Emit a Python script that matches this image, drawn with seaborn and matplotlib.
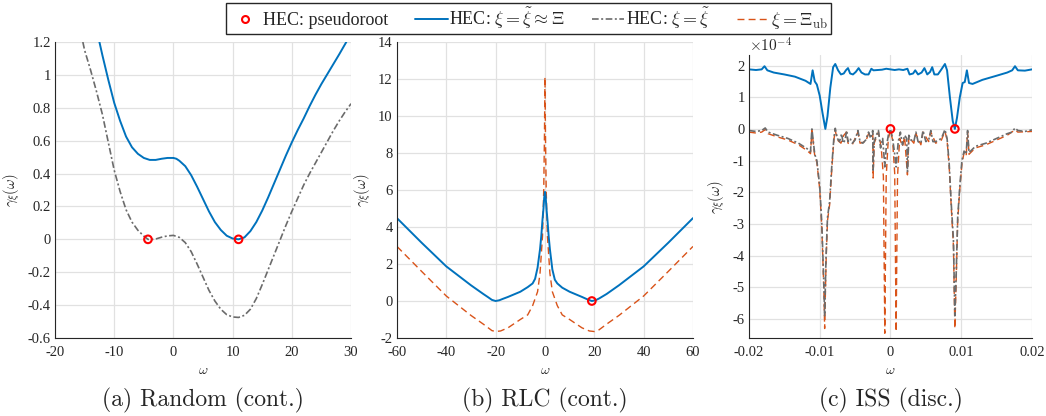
import numpy as np
import matplotlib
matplotlib.use("Agg")
import matplotlib.pyplot as plt
from matplotlib.lines import Line2D
import seaborn as sns

# colours (MATLAB defaults)
BLUE = "#0072BD"
ORANGE = "#D95319"
GRAY = "#6b6b6b"
AXC = "#262626"

# ---------------- data: (a) Random (cont.) ----------------
a_blue_x = [-12.5, -12, -11, -10, -9, -8, -7, -6, -5, -4, -3, -2, -1, 0, 0.5, 1, 2, 3, 4, 5,
            6, 7, 8, 9, 10, 11, 12, 13, 14, 15, 16, 17, 18, 19, 20, 21, 22, 23, 24, 25, 26,
            27, 28, 29.2]
a_blue_y = [1.2, 1.12, 0.97, 0.83, 0.72, 0.625, 0.56, 0.52, 0.495, 0.483, 0.483, 0.49, 0.495,
            0.495, 0.49, 0.478, 0.445, 0.39, 0.32, 0.245, 0.17, 0.105, 0.057, 0.022, 0.005,
            0.0, 0.012, 0.05, 0.105, 0.175, 0.255, 0.34, 0.425, 0.51, 0.59, 0.665, 0.735,
            0.81, 0.88, 0.945, 1.005, 1.065, 1.125, 1.2]
a_gray_x = [-15.3, -15, -14, -13, -12, -11, -10, -9, -8, -7, -6, -5, -4.3, -4, -3, -2, -1, 0,
            1, 2, 3, 4, 5, 6, 7, 8, 9, 10, 11, 12, 13, 14, 15, 16, 17, 18, 19, 20, 21, 22, 23,
            24, 25, 26, 27, 28, 29, 30]
a_gray_y = [1.2, 1.15, 1.03, 0.9, 0.76, 0.59, 0.42, 0.29, 0.18, 0.105, 0.055, 0.02, 0.0,
            -0.002, 0.002, 0.013, 0.021, 0.024, 0.012, -0.02, -0.075, -0.15, -0.23, -0.31,
            -0.375, -0.425, -0.458, -0.472, -0.475, -0.462, -0.425, -0.36, -0.275, -0.185,
            -0.095, -0.005, 0.085, 0.17, 0.25, 0.33, 0.4, 0.465, 0.53, 0.595, 0.66, 0.72,
            0.775, 0.825]
a_root_x = [-4.3, 11.0]
a_root_y = [0.0, 0.0]

# ---------------- data: (b) RLC (cont.) ----------------
b_blue_x = [-60, -50, -40, -30, -25, -23, -21.5, -20, -18.5, -17, -15, -10, -7, -5, -4, -3,
            -2, -1.5, -1, -0.6, -0.3, 0, 0.3, 0.6, 1, 1.5, 2, 3, 4, 5, 7, 10, 15, 17, 19,
            20.5, 22, 25, 30, 40, 50, 60]
b_blue_y = [4.48, 3.15, 1.87, 0.85, 0.38, 0.2, 0.06, 0.0, 0.04, 0.12, 0.22, 0.5, 0.75, 0.95,
            1.2, 1.8, 2.8, 3.5, 4.4, 5.0, 5.6, 5.9, 5.6, 5.0, 4.4, 3.5, 2.8, 1.7, 1.15, 0.95,
            0.72, 0.5, 0.22, 0.1, 0.0, 0.04, 0.14, 0.38, 0.85, 1.87, 3.15, 4.48]
b_orange_x = [-60, -50, -40, -30, -25, -23, -21.5, -20, -18, -15, -10, -7, -5, -3, -2, -1,
              -0.5, -0.2, 0, 0.2, 0.5, 1, 2, 3, 5, 7, 10, 15, 18, 20, 21.5, 23, 25, 30, 40,
              50, 60]
b_orange_y = [2.95, 1.6, 0.27, -0.78, -1.25, -1.45, -1.6, -1.65, -1.62, -1.45, -1.0, -0.75,
              -0.25, 0.5, 1.5, 3.5, 6.0, 9.0, 12.1, 9.0, 6.0, 3.5, 1.5, 0.5, -0.25, -0.75,
              -1.0, -1.45, -1.62, -1.65, -1.6, -1.45, -1.25, -0.78, 0.27, 1.6, 2.95]
b_root_x = [19.0]
b_root_y = [0.0]

# ---------------- data: (c) ISS (disc.), values in 1e-4 ----------------
c_blue_x = [-0.0200, -0.0190, -0.0182, -0.0178, -0.0174, -0.0165, -0.0150, -0.0135, -0.0120,
            -0.0113, -0.0110, -0.0107, -0.0104, -0.0100, -0.0096, -0.0092, -0.0089, -0.0085,
            -0.0081, -0.0078, -0.0074, -0.0070, -0.0066, -0.0063, -0.0060, -0.0057, -0.0053,
            -0.0049, -0.0045, -0.0041, -0.0036, -0.0031, -0.0027, -0.0024, -0.0018, -0.0012,
            -0.0006, 0.0000, 0.0006, 0.0012, 0.0018, 0.0024, 0.0027, 0.0032, 0.0035, 0.0039,
            0.0044, 0.0048, 0.0052, 0.0056, 0.0059, 0.0062, 0.0067, 0.0072, 0.0077, 0.0080,
            0.0084, 0.0088, 0.0091, 0.0094, 0.0098, 0.0102, 0.0105, 0.0108, 0.0111, 0.0116,
            0.0130, 0.0150, 0.0165, 0.0172, 0.0176, 0.0180, 0.0190, 0.0200]
c_blue_y = [1.88, 1.86, 1.88, 1.98, 1.85, 1.78, 1.72, 1.65, 1.52, 1.42, 1.85, 1.50, 1.40, 1.05,
            0.5, 0.0, 0.4, 1.3, 1.95, 2.05, 1.85, 1.72, 1.75, 1.85, 1.92, 1.75, 1.72, 1.8, 1.92,
            1.78, 1.72, 1.72, 1.9, 1.85, 1.86, 1.87, 1.9, 1.88, 1.86, 1.88, 1.86, 1.9, 1.72,
            1.75, 1.85, 1.72, 1.78, 1.92, 1.72, 1.8, 1.95, 1.72, 1.72, 1.88, 2.05, 1.85, 1.0,
            0.25, 0.0, 0.35, 1.0, 1.45, 1.48, 1.85, 1.45, 1.42, 1.55, 1.68, 1.78, 1.85, 1.98,
            1.85, 1.84, 1.88]
c_gray_x = [-0.0200, -0.0190, -0.0182, -0.0177, -0.0173, -0.0160, -0.0145, -0.0130, -0.0118,
            -0.0113, -0.0111, -0.0107, -0.0104, -0.0100, -0.0097, -0.0094, -0.0093, -0.0091,
            -0.0089, -0.0086, -0.0083, -0.0080, -0.0078, -0.0075, -0.0072, -0.0069, -0.0067,
            -0.0064, -0.0062, -0.0060, -0.0057, -0.0054, -0.0050, -0.0046, -0.0043, -0.0039,
            -0.0035, -0.0031, -0.0028, -0.0025, -0.00245, -0.0023, -0.0020, -0.0017, -0.0014,
            -0.0011, -0.0008, -0.0006, -0.0003, 0.0000, 0.0003, 0.0006, 0.0008, 0.0011, 0.0014,
            0.0017, 0.0020, 0.0023, 0.0024, 0.0026, 0.0029, 0.0033, 0.0036, 0.0039, 0.0043,
            0.0046, 0.0050, 0.0054, 0.0057, 0.0060, 0.0064, 0.0068, 0.0072, 0.0077, 0.0080,
            0.0083, 0.0086, 0.0089, 0.0091, 0.0093, 0.0095, 0.0098, 0.0101, 0.0104, 0.0107,
            0.0109, 0.0111, 0.0120, 0.0135, 0.0150, 0.0165, 0.0172, 0.0176, 0.0180, 0.0190,
            0.0200]
c_gray_y = [-0.05, -0.08, -0.05, 0.03, -0.1, -0.2, -0.3, -0.45, -0.62, -0.72, 0.0, -0.8, -1.0,
            -1.8, -3.0, -5.0, -5.9, -4.0, -2.8, -2.3, -1.2, -0.3, 0.02, -0.3, -0.4, -0.15,
            -0.45, -0.35, -0.05, -0.4, -0.3, -0.45, -0.35, -0.05, -0.4, -0.45, -0.35, -0.1,
            -0.3, -0.05, -1.3, -0.4, -0.2, -0.05, -0.6, -0.3, -1.2, -0.6, -0.2, 0.0, -0.3, -0.8,
            -1.2, -0.4, -0.1, -0.5, -0.2, -0.3, -1.35, -0.2, -0.35, -0.4, -0.1, -0.4, -0.45,
            -0.05, -0.4, -0.35, -0.05, -0.4, -0.4, -0.35, -0.3, -0.02, -0.3, -1.1, -2.4, -3.5,
            -5.9, -4.5, -2.8, -1.8, -1.0, -0.7, -0.8, -0.05, -0.75, -0.55, -0.45, -0.3, -0.15,
            -0.1, 0.03, -0.05, -0.08, -0.03]
c_orange_x = [-0.0200, -0.0190, -0.0182, -0.0177, -0.0173, -0.0160, -0.0145, -0.0130,
              -0.0118, -0.0113, -0.0111, -0.0107, -0.0104, -0.0100, -0.0097, -0.0094, -0.0093,
              -0.0091, -0.0089, -0.0086, -0.0083, -0.0080, -0.0078, -0.0075, -0.0070, -0.0066,
              -0.0062, -0.0060, -0.0054, -0.0046, -0.0043, -0.0035, -0.0031, -0.0025, -0.00245,
              -0.0023, -0.0017, -0.0013, -0.0010, -0.0008, -0.0006, -0.0003, 0.0000, 0.0003,
              0.0006, 0.0008, 0.0010, 0.0013, 0.0017, 0.0020, 0.0024, 0.0026, 0.0033, 0.0036,
              0.0043, 0.0046, 0.0054, 0.0057, 0.0064, 0.0072, 0.0077, 0.0080, 0.0083, 0.0086,
              0.0089, 0.0091, 0.0093, 0.0095, 0.0098, 0.0101, 0.0104, 0.0107, 0.0109, 0.0111,
              0.0120, 0.0135, 0.0150, 0.0165, 0.0176, 0.0180, 0.0200]
c_orange_y = [-0.1, -0.13, -0.1, -0.02, -0.15, -0.25, -0.35, -0.5, -0.68, -0.78, -0.05, -0.85,
              -1.05, -1.9, -3.1, -5.2, -6.3, -4.2, -2.9, -2.4, -1.3, -0.35, -0.05, -0.35, -0.45,
              -0.2, -0.1, -0.45, -0.5, -0.1, -0.45, -0.4, -0.15, -0.1, -1.55, -0.45, -0.1, -0.6,
              -1.5, -6.45, -1.5, -0.3, -0.05, -0.35, -1.4, -6.4, -1.5, -0.3, -0.55, -0.25, -1.45,
              -0.25, -0.45, -0.15, -0.5, -0.1, -0.4, -0.1, -0.45, -0.35, -0.07, -0.35, -1.2,
              -2.5, -3.7, -6.3, -4.7, -2.9, -1.9, -1.1, -0.75, -0.85, -0.1, -0.8, -0.6, -0.5,
              -0.35, -0.2, -0.03, -0.1, -0.08]
c_root_x = [0.0, 0.0091]
c_root_y = [0.0, 0.0]

captions = ["(a) Random (cont.)", "(b) RLC (cont.)", "(c) ISS (disc.)"]


def style_axes(ax, xlim, ylim, xticks, yticks, xlabels=None, ylabels=None):
    ax.set_xlim(*xlim)
    ax.set_ylim(*ylim)
    ax.set_xticks(xticks, labels=xlabels)
    ax.set_yticks(yticks, labels=ylabels)
    ax.grid(True, color="#e1e1e1", linewidth=0.9)
    ax.set_axisbelow(True)
    for side in ["top", "right"]:
        ax.spines[side].set_visible(False)
    for side in ["left", "bottom"]:
        ax.spines[side].set_color(AXC)
        ax.spines[side].set_linewidth(0.8)
    ax.tick_params(direction="in", length=3, width=0.8, colors=AXC, labelsize=10.5,
                   labelcolor=AXC, pad=3)
    ax.tick_params(axis="x", pad=6)
    ax.set_xlabel(r"$\omega$", fontsize=10, color=AXC, labelpad=3)
    ax.set_ylabel(r"$\gamma_\xi(\omega)$", fontsize=10.5, color=AXC, labelpad=4)


def roots(ax, x, y):
    sns.scatterplot(x=x, y=y, ax=ax, s=30, marker="o", facecolor="none",
                    edgecolor="red", linewidth=1.5, zorder=5)


sns.set_style("whitegrid")
plt.rcParams["font.family"] = ["Liberation Serif", "DejaVu Serif"]
plt.rcParams["mathtext.fontset"] = "cm"

fig = plt.figure(figsize=(10.46, 4.16), dpi=100)
ax_a = fig.add_axes([0.0526, 0.1875, 0.283, 0.7115])
ax_b = fig.add_axes([0.3795, 0.1875, 0.283, 0.7115])
ax_c = fig.add_axes([0.716, 0.1875, 0.2706, 0.680])

dash_gray = (0, (4, 1.5, 1.2, 1.5))
dash_orange = (0, (5, 3))

# (a)
sns.lineplot(x=a_gray_x, y=a_gray_y, ax=ax_a, color=GRAY, linewidth=1.2,
             linestyle=dash_gray, estimator=None)
sns.lineplot(x=a_blue_x, y=a_blue_y, ax=ax_a, color=BLUE, linewidth=1.4, estimator=None)
roots(ax_a, a_root_x, a_root_y)
style_axes(ax_a, (-20, 30), (-0.6, 1.2), [-20, -10, 0, 10, 20, 30],
           np.round(np.arange(-0.6, 1.21, 0.2), 1),
           ["-20", "-10", "0", "10", "20", "30"],
           ["-0.6", "-0.4", "-0.2", "0", "0.2", "0.4", "0.6", "0.8", "1", "1.2"])

# (b)
sns.lineplot(x=b_orange_x, y=b_orange_y, ax=ax_b, color=ORANGE, linewidth=1.0,
             linestyle=dash_orange, estimator=None)
sns.lineplot(x=b_blue_x, y=b_blue_y, ax=ax_b, color=BLUE, linewidth=1.4, estimator=None)
roots(ax_b, b_root_x, b_root_y)
style_axes(ax_b, (-60, 60), (-2, 14), list(range(-60, 61, 20)), list(range(-2, 15, 2)),
           [str(v) for v in range(-60, 61, 20)], [str(v) for v in range(-2, 15, 2)])

# (c)
sns.lineplot(x=c_orange_x, y=c_orange_y, ax=ax_c, color=ORANGE, linewidth=1.0,
             linestyle=dash_orange, estimator=None, sort=False)
sns.lineplot(x=c_gray_x, y=c_gray_y, ax=ax_c, color=GRAY, linewidth=1.2,
             linestyle=dash_gray, estimator=None, sort=False)
sns.lineplot(x=c_blue_x, y=c_blue_y, ax=ax_c, color=BLUE, linewidth=1.4, estimator=None,
             sort=False)
roots(ax_c, c_root_x, c_root_y)
style_axes(ax_c, (-0.02, 0.02), (-6.6, 2.33), [-0.02, -0.01, 0, 0.01, 0.02],
           list(range(-6, 3)), ["-0.02", "-0.01", "0", "0.01", "0.02"],
           [str(v) for v in range(-6, 3)])
ax_c.text(0.0, 1.003, r"$\times10^{-4}$", transform=ax_c.transAxes, fontsize=11,
          color=AXC, ha="left", va="bottom")

for ax in [ax_a, ax_b, ax_c]:
    leg = ax.get_legend()
    if leg is not None:
        leg.remove()

# captions
for ax, cap in zip([ax_a, ax_b, ax_c], captions):
    pos = ax.get_position()
    fig.text(pos.x0 + pos.width / 2, 0.038, cap, ha="center", va="center",
             fontsize=17, family="cmr10")

# shared legend on top
handles = [
    Line2D([], [], linestyle="none", marker="o", markerfacecolor="none",
           markeredgecolor="red", markeredgewidth=1.5, markersize=5),
    Line2D([], [], color=BLUE, linewidth=1.4),
    Line2D([], [], color=GRAY, linewidth=1.2, linestyle=dash_gray),
    Line2D([], [], color=ORANGE, linewidth=1.0, linestyle=dash_orange),
]
labels = ["HEC: pseudoroot", r"HEC: $\xi=\tilde{\xi}\approx\Xi$",
          r"HEC: $\xi=\tilde{\xi}$", r"$\xi=\Xi_{\mathrm{ub}}$"]
fig.legend(handles, labels, loc="center", bbox_to_anchor=(0.505, 0.956), ncol=4,
           frameon=True, fancybox=False, edgecolor=AXC, fontsize=13,
           handlelength=1.8, handletextpad=0.1, columnspacing=1.5, borderpad=0.15,
           framealpha=1)

fig.savefig("out.png", dpi=100)
